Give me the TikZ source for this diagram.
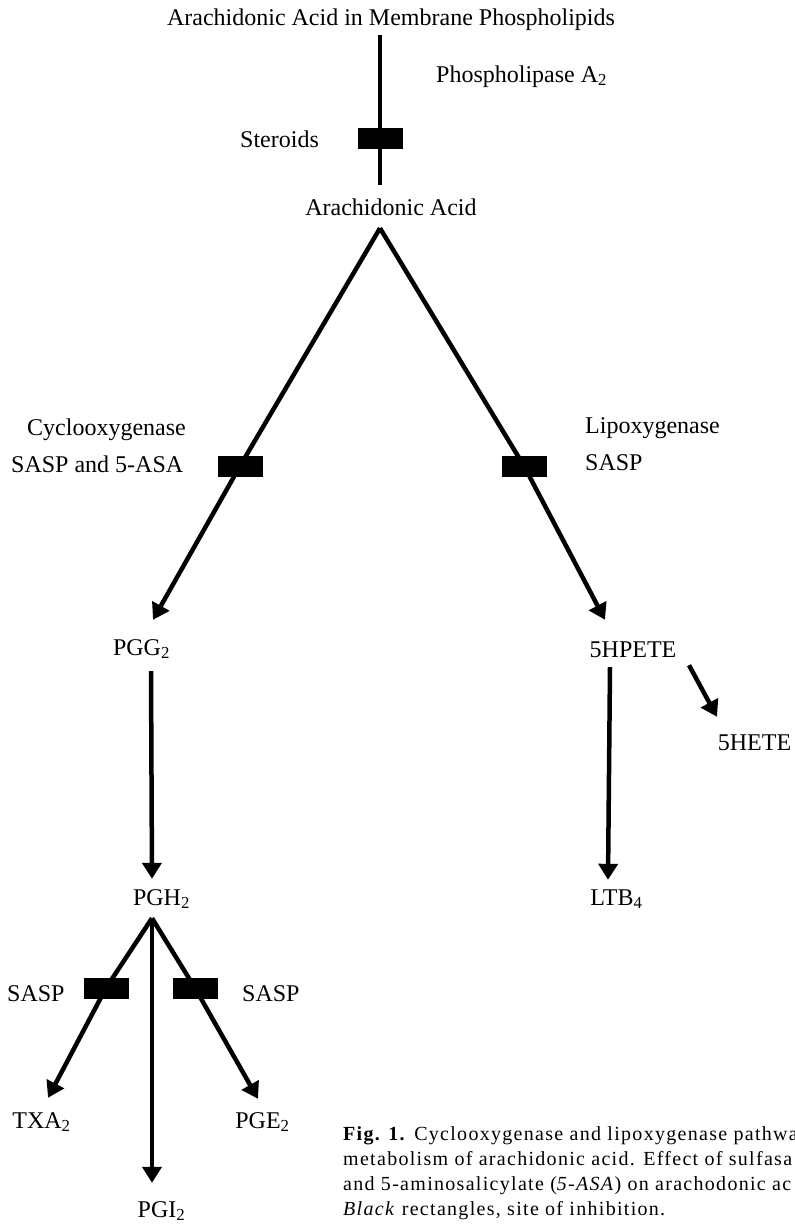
\documentclass[tikz,border=0pt]{standalone}
\usepackage{fontspec}
\setmainfont{Liberation Serif}
\newfontfamily\capfont[LetterSpace=6.5]{Liberation Serif}
\usetikzlibrary{arrows.meta}

\begin{document}
\begin{tikzpicture}[x=1pt, y=-1pt]
\tikzstyle{every node}=[inner sep=0pt]
\tikzstyle{compound}=[font=\fontsize{24}{28}\selectfont, text height=15pt, text depth=5pt, anchor=base]
\tikzstyle{enzyme}=[font=\fontsize{24}{28}\selectfont, anchor=base west]
\tikzstyle{blocker}=[fill=black, minimum width=45pt, minimum height=21pt]
\tikzstyle{link}=[line width=4.5pt]
\tikzstyle{flow}=[link, -{Triangle[length=16pt, width=19pt]}]
\useasboundingbox (0,0) rectangle (795,1224);

\node[compound] (memb)  at (391,25)    {Arachidonic Acid in Membrane Phospholipids};
\node[compound] (aa)    at (391,215)   {Arachidonic Acid};
\node[compound] (pgg)   at (141.5,655) {PGG\textsubscript{2}};
\node[compound] (pgh)   at (161.5,905) {PGH\textsubscript{2}};
\node[compound] (hpete) at (633,657)   {5HPETE};
\node[compound] (hete)  at (754.5,750) {5HETE};
\node[compound] (ltb)   at (616.5,905) {LTB\textsubscript{4}};
\node[compound] (txa)   at (41.5,1128) {TXA\textsubscript{2}};
\node[compound] (pge)   at (262.5,1128) {PGE\textsubscript{2}};
\node[compound] (pgi)   at (161.5,1217) {PGI\textsubscript{2}};

\node[enzyme] (pla)    at (436,82)  {Phospholipase A\textsubscript{2}};
\node[enzyme] (ster)   at (240,147) {Steroids};
\node[enzyme] (cox)    at (27,435)  {Cyclooxygenase};
\node[enzyme] (coxinh) at (11,472)  {SASP and 5-ASA};
\node[enzyme] (lox)    at (585,433) {Lipoxygenase};
\node[enzyme] (loxinh) at (585,470) {SASP};
\node[enzyme] (txinh)  at (7,1001)  {SASP};
\node[enzyme] (peinh)  at (242,1001) {SASP};

\node[blocker] (blk-pla) at (380,138) {};
\node[blocker] (blk-cox) at (240,466) {};
\node[blocker] (blk-lox) at (524,466) {};
\node[blocker] (blk-tx)  at (106,988) {};
\node[blocker] (blk-pe)  at (195,988) {};

\coordinate (aa-fork)  at ([shift={(-11,8)}]aa.south);
\coordinate (pgh-fork) at ([shift={(-9.5,8)}]pgh.south);

\draw[link] ([shift={(-11,5)}]memb.south) -- ([shift={(-11,-15)}]aa.north);
\draw[flow] (aa-fork) -- (blk-cox.center) -- ([shift={(11.5,-20)}]pgg.north);
\draw[flow] (aa-fork) -- (blk-lox.center) -- ([shift={(-28,-22)}]hpete.north);
\draw[flow] ([shift={(9.5,11)}]pgg.south) -- ([shift={(-9.5,-11)}]pgh.north);
\draw[flow] ([shift={(-23,5)}]hpete.south) -- ([shift={(-8.5,-10)}]ltb.north);
\draw[flow] ([shift={(56,3)}]hpete.south) -- ([shift={(-37.5,-18)}]hete.north);
\draw[flow] (pgh-fork) -- (blk-tx.center) -- ([shift={(6.5,-15)}]txa.north);
\draw[flow] (pgh-fork) -- ([shift={(-9.5,-19)}]pgi.north);
\draw[flow] (pgh-fork) -- (blk-pe.center) -- ([shift={(-4.5,-14)}]pge.north);

\node[anchor=base west, align=left, font=\capfont\fontsize{20}{25}\selectfont] (caption) at (343,1215)
  {\textbf{Fig. 1.} Cyclooxygenase and lipoxygenase pathway\\
   metabolism of arachidonic acid. Effect of sulfasa\\
   and 5-aminosalicylate (\textit{5-ASA}) on arachodonic ac\\
   \textit{Black} rectangles, site of inhibition.};
\end{tikzpicture}
\end{document}
